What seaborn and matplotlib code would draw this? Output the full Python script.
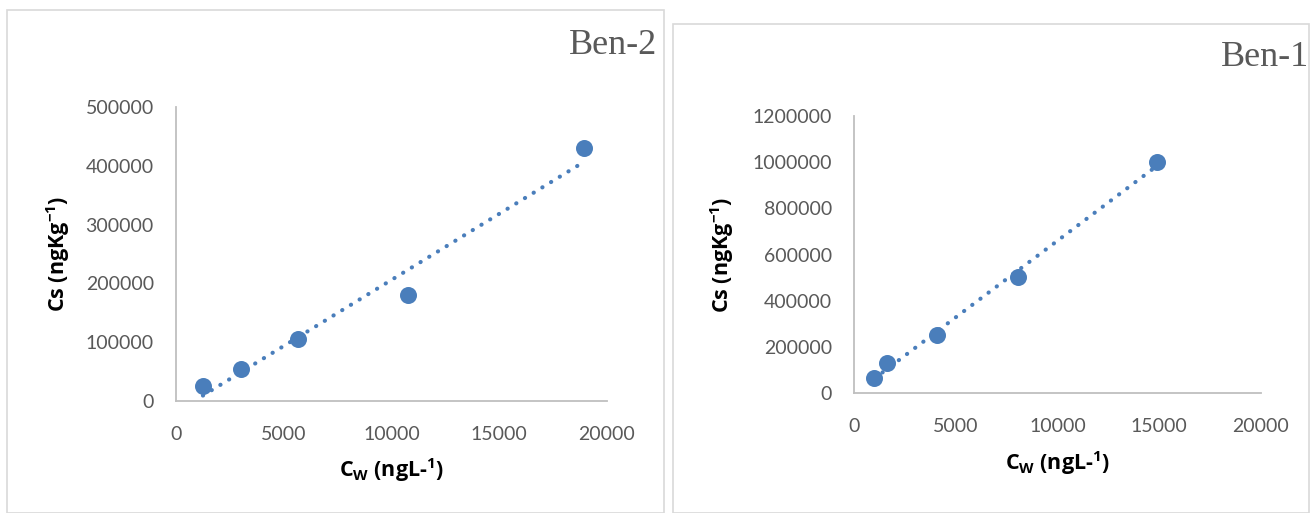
import numpy as np
import pandas as pd
import seaborn as sns
import matplotlib
matplotlib.use("Agg")
import matplotlib.pyplot as plt
from matplotlib.patches import Rectangle

# Sorption data: water concentration (ng/L) vs sediment concentration (ng/kg)
ben2_cw = [1250, 3000, 5650, 10750, 18950]
ben2_cs = [25000, 55000, 106000, 180000, 430000]

ben1_cw = [1000, 1600, 4100, 8050, 14900]
ben1_cs = [64000, 130000, 250000, 502000, 1002000]

ben2_xticks = [0, 5000, 10000, 15000, 20000]
ben2_yticks = [0, 100000, 200000, 300000, 400000, 500000]
ben1_xticks = [0, 5000, 10000, 15000, 20000]
ben1_yticks = [0, 200000, 400000, 600000, 800000, 1000000, 1200000]

sns.set_theme(style="white")
plt.rcParams["font.family"] = ["Lato", "DejaVu Sans"]
plt.rcParams["mathtext.fontset"] = "custom"
plt.rcParams["mathtext.rm"] = "Open Sans"
plt.rcParams["mathtext.bf"] = "Open Sans:bold"

BLUE = "#4a7ebb"
GREY_TXT = "#595959"
AXIS_GREY = "#bfbfbf"

W, H = 1310, 513
fig = plt.figure(figsize=(W / 100, H / 100), dpi=100)

# Panel frames
fig.patches.append(Rectangle((7 / W, 0), (664 - 7) / W, 1 - 10 / H,
                             transform=fig.transFigure, fill=False,
                             edgecolor="#d9d9d9", linewidth=1.2))
fig.patches.append(Rectangle((673 / W, 0), (1309 - 673) / W, 1 - 24 / H,
                             transform=fig.transFigure, fill=False,
                             edgecolor="#d9d9d9", linewidth=1.2))


def panel(rect, cw, cs, xticks, yticks, title, title_xy, ylabel_x, xlabel_y):
    ax = fig.add_axes(rect)
    df = pd.DataFrame({"cw": cw, "cs": cs})
    sns.regplot(data=df, x="cw", y="cs", ax=ax, ci=None, truncate=True,
                color=BLUE,
                scatter_kws={"s": 150, "color": BLUE, "linewidths": 0, "alpha": 1, "zorder": 3},
                line_kws={"color": BLUE, "linewidth": 3.0, "linestyle": (0, (0.05, 2.4)),
                          "dash_capstyle": "round", "zorder": 2})
    ax.set_xlim(xticks[0], xticks[-1])
    ax.set_ylim(yticks[0], yticks[-1])
    ax.set_xticks(xticks)
    ax.set_yticks(yticks)
    ax.set_xticklabels([str(t) for t in xticks])
    ax.set_yticklabels([str(t) for t in yticks])
    ax.tick_params(axis="both", length=0, labelsize=14, labelcolor=GREY_TXT)
    ax.tick_params(axis="y", pad=16)
    ax.tick_params(axis="x", pad=18)
    for s in ["top", "right"]:
        ax.spines[s].set_visible(False)
    for s in ["left", "bottom"]:
        ax.spines[s].set_color(AXIS_GREY)
        ax.spines[s].set_linewidth(1.3)
    ax.grid(False)
    lab = dict(fontsize=15.5, fontweight="bold", color="black", family="Open Sans")
    ax.set_xlabel(r"C$_{\mathbf{W}}$ (ngL-$^{\mathbf{1}}$)", **lab)
    ax.set_ylabel(r"Cs (ngKg$^{\mathbf{-1}}$)", **lab)
    ax.xaxis.set_label_coords(0.5, xlabel_y)
    ax.yaxis.set_label_coords(ylabel_x, 0.5)
    fig.text(title_xy[0] / W, 1 - title_xy[1] / H, title, family="Liberation Serif",
             fontsize=26, color=GREY_TXT, ha="right", va="center")
    return ax


panel([176 / W, 1 - 401 / H, (607 - 176) / W, (401 - 107) / H],
      ben2_cw, ben2_cs, ben2_xticks, ben2_yticks, "Ben-2", (657, 45),
      -(176 - 72) / (607 - 176), -(456 - 401) / (401 - 107))
panel([854 / W, 1 - 393 / H, (1261 - 854) / W, (393 - 116) / H],
      ben1_cw, ben1_cs, ben1_xticks, ben1_yticks, "Ben-1", (1309, 57),
      -(854 - 736) / (1261 - 854), -(449 - 393) / (393 - 116))

fig.savefig("out.png", dpi=100)
